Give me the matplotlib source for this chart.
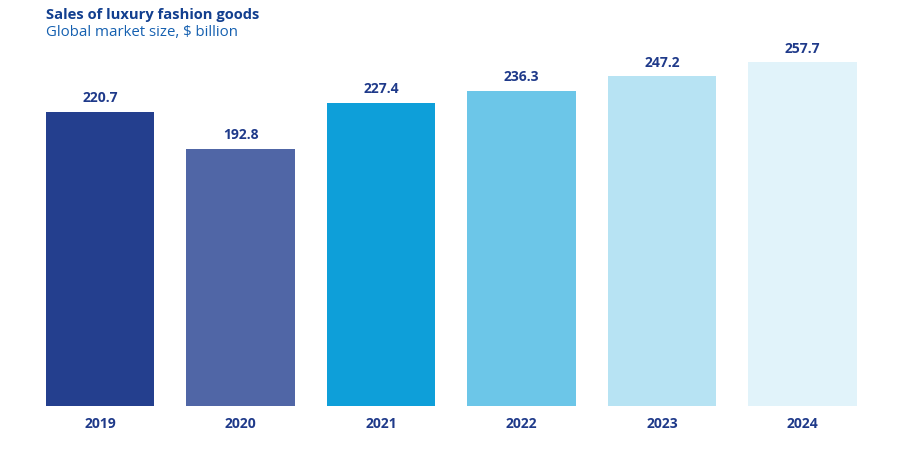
import matplotlib
matplotlib.use("Agg")
import matplotlib.pyplot as plt

years = ["2019", "2020", "2021", "2022", "2023", "2024"]
sales = [220.7, 192.8, 227.4, 236.3, 247.2, 257.7]
colors = ["#243F8E", "#5066A6", "#0E9FD9", "#6CC6E8", "#B7E3F3", "#E1F3FA"]
label_color = "#1F3A8A"

plt.rcParams["font.family"] = ["Open Sans", "DejaVu Sans"]

fig = plt.figure(figsize=(9, 4.55), dpi=100)
ax = fig.add_axes([0.0331, 0.1077, 0.9367, 0.791])

x = range(len(years))
ax.bar(x, sales, width=0.77, color=colors)
for xi, v in zip(x, sales):
    ax.text(xi, v + 5, f"{v:.1f}", ha="center", va="bottom",
            fontsize=10, fontweight="bold", color=label_color)

ax.set_xlim(-0.5, len(years) - 0.5)
ax.set_ylim(0, 270)
ax.set_xticks(list(x))
ax.set_xticklabels(years, fontsize=10, fontweight="bold", color=label_color)
ax.tick_params(axis="x", length=0, pad=8)
ax.set_yticks([])
for s in ax.spines.values():
    s.set_visible(False)

fig.text(46 / 900, 1 - 15 / 455, "Sales of luxury fashion goods", fontsize=10.6,
         fontweight="bold", color="#123F8F", va="center", ha="left")
fig.text(46 / 900, 1 - 33 / 455, "Global market size, $ billion", fontsize=10.8,
         color="#1560B0", va="center", ha="left")

fig.savefig("out.png", dpi=100)
